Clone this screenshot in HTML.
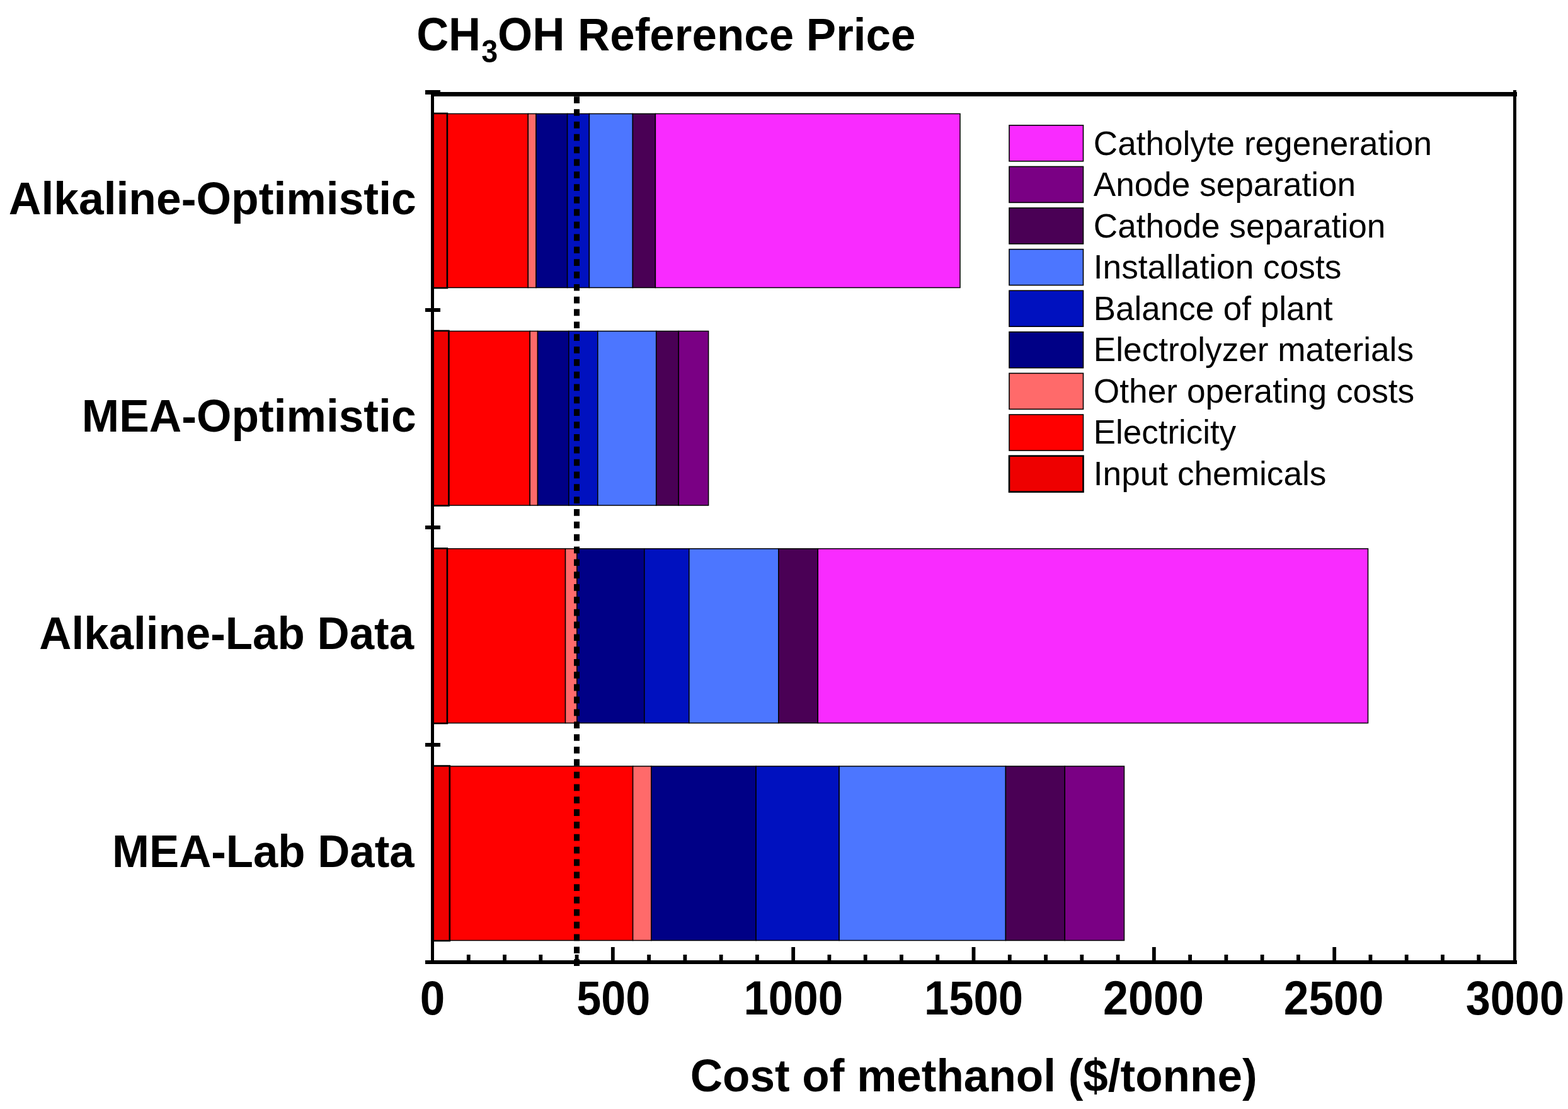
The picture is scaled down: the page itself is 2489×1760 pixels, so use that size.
<!DOCTYPE html>
<html><head><meta charset="utf-8"><title>CH3OH Reference Price</title>
<style>html,body{margin:0;padding:0;background:#fff;overflow:hidden;}svg{display:block;}</style></head>
<body><svg width="2489" height="1760" viewBox="0 0 2489 1760">
<rect width="2489" height="1760" fill="#fff"/>
<rect x="709.90" y="180.5" width="128.40" height="276.00" fill="#FF0000" stroke="#000" stroke-width="1.5"/>
<rect x="838.30" y="180.5" width="12.70" height="276.00" fill="#FF6A6A" stroke="#000" stroke-width="1.5"/>
<rect x="851.00" y="180.5" width="49.60" height="276.00" fill="#000086" stroke="#000" stroke-width="1.5"/>
<rect x="900.60" y="180.5" width="34.80" height="276.00" fill="#0011BF" stroke="#000" stroke-width="1.5"/>
<rect x="935.40" y="180.5" width="69.00" height="276.00" fill="#4C76FF" stroke="#000" stroke-width="1.5"/>
<rect x="1004.40" y="180.5" width="36.00" height="276.00" fill="#4A0055" stroke="#000" stroke-width="1.5"/>
<rect x="1040.40" y="180.5" width="483.60" height="276.00" fill="#F92BFF" stroke="#000" stroke-width="1.5"/>
<rect x="686.50" y="180.0" width="23.40" height="277.00" fill="#EE0000" stroke="#000" stroke-width="2.6"/>
<rect x="712.40" y="525.5" width="128.80" height="276.50" fill="#FF0000" stroke="#000" stroke-width="1.5"/>
<rect x="841.20" y="525.5" width="12.30" height="276.50" fill="#FF6A6A" stroke="#000" stroke-width="1.5"/>
<rect x="853.50" y="525.5" width="49.30" height="276.50" fill="#000086" stroke="#000" stroke-width="1.5"/>
<rect x="902.80" y="525.5" width="46.00" height="276.50" fill="#0011BF" stroke="#000" stroke-width="1.5"/>
<rect x="948.80" y="525.5" width="92.90" height="276.50" fill="#4C76FF" stroke="#000" stroke-width="1.5"/>
<rect x="1041.70" y="525.5" width="35.50" height="276.50" fill="#4A0055" stroke="#000" stroke-width="1.5"/>
<rect x="1077.20" y="525.5" width="47.40" height="276.50" fill="#7A0084" stroke="#000" stroke-width="1.5"/>
<rect x="686.50" y="525.0" width="25.90" height="277.50" fill="#EE0000" stroke="#000" stroke-width="2.6"/>
<rect x="709.90" y="870.8" width="187.60" height="276.70" fill="#FF0000" stroke="#000" stroke-width="1.5"/>
<rect x="897.50" y="870.8" width="18.40" height="276.70" fill="#FF6A6A" stroke="#000" stroke-width="1.5"/>
<rect x="915.90" y="870.8" width="106.90" height="276.70" fill="#000086" stroke="#000" stroke-width="1.5"/>
<rect x="1022.80" y="870.8" width="71.00" height="276.70" fill="#0011BF" stroke="#000" stroke-width="1.5"/>
<rect x="1093.80" y="870.8" width="142.10" height="276.70" fill="#4C76FF" stroke="#000" stroke-width="1.5"/>
<rect x="1235.90" y="870.8" width="62.40" height="276.70" fill="#4A0055" stroke="#000" stroke-width="1.5"/>
<rect x="1298.30" y="870.8" width="873.20" height="276.70" fill="#F92BFF" stroke="#000" stroke-width="1.5"/>
<rect x="686.50" y="870.3" width="23.40" height="277.70" fill="#EE0000" stroke="#000" stroke-width="2.6"/>
<rect x="713.80" y="1216.0" width="290.80" height="276.50" fill="#FF0000" stroke="#000" stroke-width="1.5"/>
<rect x="1004.60" y="1216.0" width="29.20" height="276.50" fill="#FF6A6A" stroke="#000" stroke-width="1.5"/>
<rect x="1033.80" y="1216.0" width="166.30" height="276.50" fill="#000086" stroke="#000" stroke-width="1.5"/>
<rect x="1200.10" y="1216.0" width="132.00" height="276.50" fill="#0011BF" stroke="#000" stroke-width="1.5"/>
<rect x="1332.10" y="1216.0" width="264.30" height="276.50" fill="#4C76FF" stroke="#000" stroke-width="1.5"/>
<rect x="1596.40" y="1216.0" width="93.90" height="276.50" fill="#4A0055" stroke="#000" stroke-width="1.5"/>
<rect x="1690.30" y="1216.0" width="94.20" height="276.50" fill="#7A0084" stroke="#000" stroke-width="1.5"/>
<rect x="686.50" y="1215.5" width="27.30" height="277.50" fill="#EE0000" stroke="#000" stroke-width="2.6"/>
<rect x="684" y="146" width="5" height="1384" fill="#000"/>
<rect x="2402" y="143" width="5" height="1387" fill="#000"/>
<rect x="684" y="146" width="1724" height="7" fill="#000"/>
<rect x="675" y="1524" width="1733" height="6" fill="#000"/>
<rect x="675" y="143" width="24" height="7" fill="#000"/>
<rect x="675" y="489" width="24" height="6" fill="#000"/>
<rect x="675" y="834" width="24" height="6" fill="#000"/>
<rect x="675" y="1179" width="24" height="6" fill="#000"/>
<rect x="740.87" y="1515" width="5.8" height="10" fill="#000"/>
<rect x="798.13" y="1515" width="5.8" height="10" fill="#000"/>
<rect x="855.40" y="1515" width="5.8" height="10" fill="#000"/>
<rect x="912.67" y="1515" width="5.8" height="10" fill="#000"/>
<rect x="969.93" y="1503" width="5.8" height="22" fill="#000"/>
<rect x="1027.20" y="1515" width="5.8" height="10" fill="#000"/>
<rect x="1084.47" y="1515" width="5.8" height="10" fill="#000"/>
<rect x="1141.73" y="1515" width="5.8" height="10" fill="#000"/>
<rect x="1199.00" y="1515" width="5.8" height="10" fill="#000"/>
<rect x="1256.27" y="1503" width="5.8" height="22" fill="#000"/>
<rect x="1313.53" y="1515" width="5.8" height="10" fill="#000"/>
<rect x="1370.80" y="1515" width="5.8" height="10" fill="#000"/>
<rect x="1428.07" y="1515" width="5.8" height="10" fill="#000"/>
<rect x="1485.33" y="1515" width="5.8" height="10" fill="#000"/>
<rect x="1542.60" y="1503" width="5.8" height="22" fill="#000"/>
<rect x="1599.87" y="1515" width="5.8" height="10" fill="#000"/>
<rect x="1657.13" y="1515" width="5.8" height="10" fill="#000"/>
<rect x="1714.40" y="1515" width="5.8" height="10" fill="#000"/>
<rect x="1771.67" y="1515" width="5.8" height="10" fill="#000"/>
<rect x="1828.93" y="1503" width="5.8" height="22" fill="#000"/>
<rect x="1886.20" y="1515" width="5.8" height="10" fill="#000"/>
<rect x="1943.47" y="1515" width="5.8" height="10" fill="#000"/>
<rect x="2000.73" y="1515" width="5.8" height="10" fill="#000"/>
<rect x="2058.00" y="1515" width="5.8" height="10" fill="#000"/>
<rect x="2115.27" y="1503" width="5.8" height="22" fill="#000"/>
<rect x="2172.53" y="1515" width="5.8" height="10" fill="#000"/>
<rect x="2229.80" y="1515" width="5.8" height="10" fill="#000"/>
<rect x="2287.07" y="1515" width="5.8" height="10" fill="#000"/>
<rect x="2344.33" y="1515" width="5.8" height="10" fill="#000"/>
<line x1="915.5" y1="153.3" x2="915.5" y2="1534" stroke="#000" stroke-width="9" stroke-dasharray="10.7 9.14"/>
<text transform="translate(661.16 80.30) scale(0.9802 1.0400)" font-family="Liberation Sans, Arial, sans-serif" font-weight="bold" font-size="72">CH</text>
<text transform="translate(764.23 99.20) scale(0.9708 1.0400)" font-family="Liberation Sans, Arial, sans-serif" font-weight="bold" font-size="48">3</text>
<text transform="translate(790.04 80.30) scale(0.9850 1.0400)" font-family="Liberation Sans, Arial, sans-serif" font-weight="bold" font-size="72">OH</text>
<text transform="translate(917.07 80.20) scale(0.9853 1.0000)" font-family="Liberation Sans, Arial, sans-serif" font-weight="bold" font-size="72">Reference Price</text>
<text transform="translate(13.82 340.00) scale(0.9921 1.0000)" font-family="Liberation Sans, Arial, sans-serif" font-weight="bold" font-size="72">Alkaline-Optimistic</text>
<text transform="translate(129.75 684.90) scale(0.9905 1.0000)" font-family="Liberation Sans, Arial, sans-serif" font-weight="bold" font-size="72">MEA-Optimistic</text>
<text transform="translate(62.33 1029.80) scale(0.9846 1.0000)" font-family="Liberation Sans, Arial, sans-serif" font-weight="bold" font-size="72">Alkaline-Lab Data</text>
<text transform="translate(178.09 1375.90) scale(0.9826 1.0000)" font-family="Liberation Sans, Arial, sans-serif" font-weight="bold" font-size="72">MEA-Lab Data</text>
<text transform="translate(666.74 1610.00) scale(0.9853 1.0500)" font-family="Liberation Sans, Arial, sans-serif" font-weight="bold" font-size="72">0</text>
<text transform="translate(915.25 1610.00) scale(0.9748 1.0500)" font-family="Liberation Sans, Arial, sans-serif" font-weight="bold" font-size="72">500</text>
<text transform="translate(1180.38 1610.00) scale(0.9849 1.0500)" font-family="Liberation Sans, Arial, sans-serif" font-weight="bold" font-size="72">1000</text>
<text transform="translate(1466.89 1610.00) scale(0.9822 1.0500)" font-family="Liberation Sans, Arial, sans-serif" font-weight="bold" font-size="72">1500</text>
<text transform="translate(1751.11 1610.00) scale(0.9981 1.0500)" font-family="Liberation Sans, Arial, sans-serif" font-weight="bold" font-size="72">2000</text>
<text transform="translate(2037.83 1610.00) scale(0.9903 1.0500)" font-family="Liberation Sans, Arial, sans-serif" font-weight="bold" font-size="72">2500</text>
<text transform="translate(2326.65 1610.00) scale(0.9761 1.0500)" font-family="Liberation Sans, Arial, sans-serif" font-weight="bold" font-size="72">3000</text>
<text transform="translate(1095.74 1731.70) scale(0.9869 1.0000)" font-family="Liberation Sans, Arial, sans-serif" font-weight="bold" font-size="72">Cost of methanol ($/tonne)</text>
<rect x="1602" y="198.80" width="117.5" height="57" fill="#F92BFF" stroke="#000" stroke-width="1.6"/>
<text transform="translate(1735.8 245.90) scale(0.9836 1.0)" font-family="Liberation Sans, Arial, sans-serif" font-size="54">Catholyte regeneration</text>
<rect x="1602" y="264.40" width="117.5" height="57" fill="#7A0084" stroke="#000" stroke-width="1.6"/>
<text transform="translate(1735.8 311.40) scale(0.9838 1.0)" font-family="Liberation Sans, Arial, sans-serif" font-size="54">Anode separation</text>
<rect x="1602" y="330.00" width="117.5" height="57" fill="#4A0055" stroke="#000" stroke-width="1.6"/>
<text transform="translate(1735.8 376.90) scale(0.9838 1.0)" font-family="Liberation Sans, Arial, sans-serif" font-size="54">Cathode separation</text>
<rect x="1602" y="395.60" width="117.5" height="57" fill="#4C76FF" stroke="#000" stroke-width="1.6"/>
<text transform="translate(1735.8 442.40) scale(0.9861 1.0)" font-family="Liberation Sans, Arial, sans-serif" font-size="54">Installation costs</text>
<rect x="1602" y="461.20" width="117.5" height="57" fill="#0011BF" stroke="#000" stroke-width="1.6"/>
<text transform="translate(1735.8 507.90) scale(0.9809 1.0)" font-family="Liberation Sans, Arial, sans-serif" font-size="54">Balance of plant</text>
<rect x="1602" y="526.80" width="117.5" height="57" fill="#000086" stroke="#000" stroke-width="1.6"/>
<text transform="translate(1735.8 573.40) scale(0.9848 1.0)" font-family="Liberation Sans, Arial, sans-serif" font-size="54">Electrolyzer materials</text>
<rect x="1602" y="592.40" width="117.5" height="57" fill="#FF6A6A" stroke="#000" stroke-width="1.6"/>
<text transform="translate(1735.8 638.90) scale(0.9870 1.0)" font-family="Liberation Sans, Arial, sans-serif" font-size="54">Other operating costs</text>
<rect x="1602" y="658.00" width="117.5" height="57" fill="#FF0000" stroke="#000" stroke-width="1.6"/>
<text transform="translate(1735.8 704.40) scale(0.9801 1.0)" font-family="Liberation Sans, Arial, sans-serif" font-size="54">Electricity</text>
<rect x="1602" y="723.60" width="117.5" height="57" fill="#EE0000" stroke="#000" stroke-width="2.6"/>
<text transform="translate(1735.8 769.90) scale(0.9853 1.0)" font-family="Liberation Sans, Arial, sans-serif" font-size="54">Input chemicals</text>
</svg></body></html>
